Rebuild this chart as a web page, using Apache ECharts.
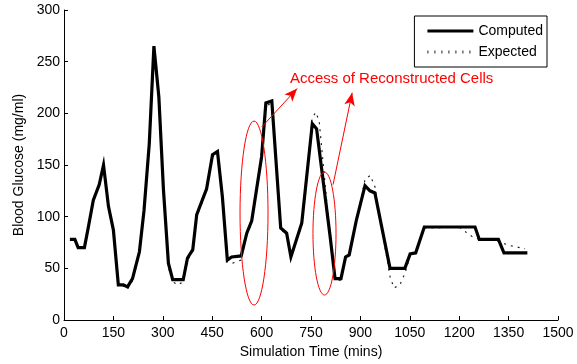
<!DOCTYPE html>
<html><head><meta charset="utf-8">
<script src="https://cdn.jsdelivr.net/npm/echarts@6/dist/echarts.min.js"></script>
<style>html,body{margin:0;padding:0;background:#fff}#c{width:577px;height:364px}</style>
</head><body><div id="c"></div>
<script>
// Computed series: [time (mins), glucose]
var computedTime = [18,33,43,62,74,89,107,120,135,150,165,180,193,208,229,243,259,273,288,302,317,330,362,375,391,403,433,451,466,481,496,509,538,555,570,600,613,631,658,676,689,722,754,767,808,823,841,855,866,888,914,929,944,990,1035,1051,1068,1094,1248,1261,1319,1336,1407];
var computedValue = [78,78,70,70,90,116,131,150,110,87,34,34,32,40,66,106,171,265,216,126,55,39,39,60,68,102,127,160,163,119,58,61,62,84,96,158,210,212,89,84,61,94,190,185,81,40,40,61,63,97,130,125,123,50,50,64,65,90,90,78,78,65,65];
// Expected series
var expectedTime = [18,33,43,62,74,89,107,120,135,150,165,180,193,208,229,243,259,273,288,302,317,335,345,362,375,391,403,433,451,466,481,496,512,538,555,570,600,613,631,658,676,689,722,754,765,775,808,823,841,855,866,888,914,930,944,975,990,1002,1020,1035,1051,1068,1094,1200,1221,1238,1261,1300,1336,1354,1400];
var expectedValue = [77,77,70,70,88,114,130,147,112,86,33,33,30,38,64,104,170,255,220,128,50,36,34,37,58,66,100,125,158,160,118,56,55,58,82,94,156,207,210,88,82,60,92,196,201,192,80,40,38,60,62,95,136,140,129,70,42,31,34,45,62,64,89,90,85,81,78,78,74,72,69];
var xTicks = {min:0, max:1500, interval:150};
var yTicks = {min:0, max:300, interval:50};
var seriesNames = ['Computed','Expected'];
var noteText = 'Access of Reconstructed Cells';

function zip(a,b){return a.map(function(v,i){return [v,b[i]];});}

var chart = echarts.init(document.getElementById('c'));
var font = '"Liberation Sans", Arial, Helvetica, sans-serif';
function axis(extra){
  return Object.assign({
    axisLine:{show:true, onZero:false, lineStyle:{color:'#000', width:1}},
    axisTick:{show:true, inside:true, length:4, lineStyle:{color:'#000'}},
    splitLine:{show:false},
    nameTextStyle:{color:'#000', fontSize:14, fontFamily:font}
  }, extra);
}
var solidIcon = 'path://M0,0H46V3H0Z';
var dotIcon = 'path://M0,0H1V3H0Z M7,0H8V3H7Z M14,0H15V3H14Z M21,0H22V3H21Z M28,0H29V3H28Z M35,0H36V3H35Z M42,0H43V3H42Z M45,0H46V0.01H45Z';
chart.setOption({
  animation:false,
  backgroundColor:'#fff',
  grid:{left:64, right:19, top:10, bottom:44, containLabel:false},
  xAxis:axis({type:'value', min:xTicks.min, max:xTicks.max, interval:xTicks.interval,
    name:'Simulation Time (mins)', nameLocation:'middle', nameGap:25,
    axisLabel:{color:'#000', fontSize:14, fontFamily:font, margin:6, formatter:function(v){return String(v);}}}),
  yAxis:axis({type:'value', min:yTicks.min, max:yTicks.max, interval:yTicks.interval,
    name:'Blood Glucose (mg/ml)', nameLocation:'middle', nameGap:32,
    axisLabel:{color:'#000', fontSize:14, fontFamily:font, margin:4}}),
  legend:{
    orient:'vertical', right:30, top:16, padding:[8,4,8,13], itemGap:7,
    itemWidth:46, itemHeight:3,
    backgroundColor:'#fff', borderColor:'#000', borderWidth:1, borderRadius:0,
    textStyle:{color:'#000', fontSize:14, fontFamily:font},
    data:[{name:seriesNames[0], icon:solidIcon},{name:seriesNames[1], icon:dotIcon}]
  },
  series:[
    {name:seriesNames[1], type:'line', data:zip(expectedTime, expectedValue), symbol:'none', z:1,
     lineStyle:{color:'#222', width:1.2, type:[2,5]}, itemStyle:{color:'#222'}},
    {name:seriesNames[0], type:'line', data:zip(computedTime, computedValue), symbol:'none', z:2,
     lineStyle:{color:'#000', width:3.2, join:'miter'}, itemStyle:{color:'#000'},
     markLine:{silent:true, symbol:['none','arrow'], symbolSize:[8,13], animation:false,
       lineStyle:{color:'#ff0000', width:1, type:'solid'}, label:{show:false},
       data:[
         [{coord:[601,187]},{coord:[708,224]}],
         [{coord:[817,131]},{coord:[875,220]}]
       ]}}
  ]
});

function drawNotes(){
  var e1c = chart.convertToPixel({gridIndex:0},[577,103.5]);
  var e1r = chart.convertToPixel({gridIndex:0},[577+42.5,103.5+89]);
  var e2c = chart.convertToPixel({gridIndex:0},[791,83.7]);
  var e2r = chart.convertToPixel({gridIndex:0},[791+35,83.7+59.5]);
  var tp = chart.convertToPixel({gridIndex:0},[686,233]);
  chart.setOption({graphic:[
    {type:'ellipse', shape:{cx:e1c[0], cy:e1c[1], rx:e1r[0]-e1c[0], ry:e1c[1]-e1r[1]},
     style:{fill:'none', stroke:'#ff0000', lineWidth:1}, z:10},
    {type:'ellipse', shape:{cx:e2c[0], cy:e2c[1], rx:e2r[0]-e2c[0], ry:e2c[1]-e2r[1]},
     style:{fill:'none', stroke:'#ff0000', lineWidth:1}, z:10},
    {type:'text', x:tp[0], y:tp[1], style:{text:noteText, fill:'#ff0000', fontSize:15, fontFamily:font, verticalAlign:'middle', align:'left'}, z:10}
  ]});
}
drawNotes();
</script></body></html>
